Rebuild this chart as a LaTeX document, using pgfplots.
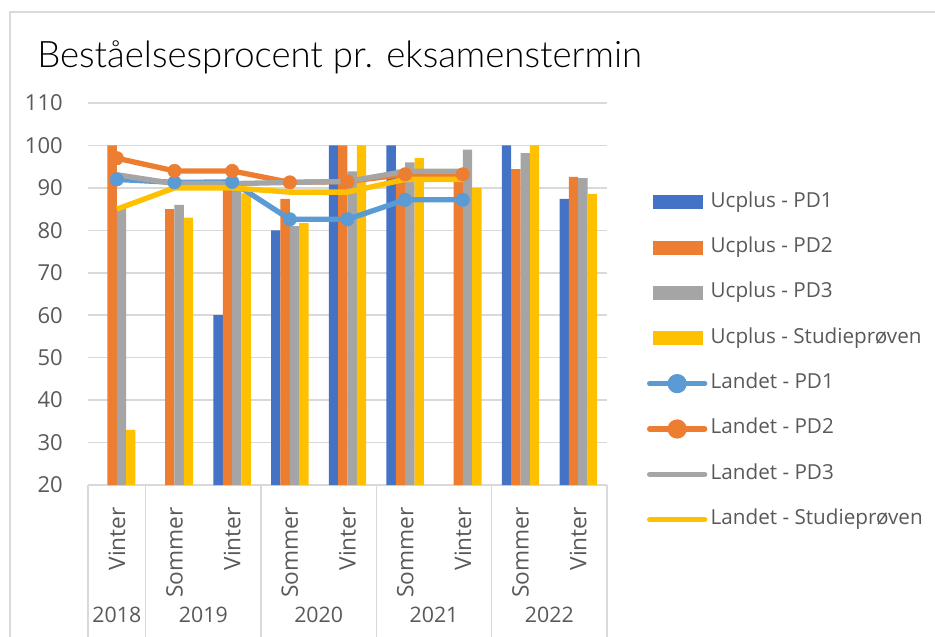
\documentclass[border=0pt]{standalone}
\usepackage{fontspec}
\setmainfont{Open Sans}
\newfontfamily\titlefont{Lato Light}
\usepackage{pgfplots}
\pgfplotsset{compat=1.18}
\definecolor{cA}{HTML}{4472C4}
\definecolor{cB}{HTML}{ED7D31}
\definecolor{cC}{HTML}{A5A5A5}
\definecolor{cD}{HTML}{FFC000}
\definecolor{cE}{HTML}{5B9BD5}
\definecolor{gridc}{HTML}{D9D9D9}
\definecolor{txt}{HTML}{595959}
\begin{document}
\begin{tikzpicture}
\useasboundingbox (0,0) rectangle (701.25pt,-477pt);
\draw[gridc, line width=1pt] (7.5pt,-9pt) rectangle (720pt,-500pt);
\node[anchor=base west, inner sep=0pt, font=\titlefont\fontsize{27.4}{31}\selectfont] at (27.75pt,-50.25pt) {Beståelsesprocent pr. eksamenstermin};
\begin{axis}[
  at={(66pt,-363.75pt)}, anchor=south west,
  scale only axis, width=389.25pt, height=286.5pt,
  xmin=-0.5, xmax=8.5, ymin=20, ymax=110,
  ytick={20,30,...,110},
  xtick={0,...,8},
  xticklabels={Vinter,Sommer,Vinter,Sommer,Vinter,Sommer,Vinter,Sommer,Vinter},
  /pgf/number format/assume math mode=true,
  ticklabel style={text=txt},
  xticklabel style={rotate=90, anchor=east, inner sep=0pt, font=\fontsize{17}{20}\selectfont},
  yticklabel style={anchor=east, inner sep=0pt, font=\fontsize{16.5}{19}\selectfont},
  xticklabel shift=16.5pt,
  yticklabel shift=18.75pt,
  major tick length=0pt,
  tick style={draw=none},
  axis line style={draw=none},
  ymajorgrids,
  grid style={draw=gridc, line width=1.2pt},
  legend cell align=left,
  legend style={at={(1.0771,0.3247)}, anchor=west, draw=none, fill=none,
    inner sep=0pt, outer sep=0pt, column sep=2.5pt, row sep=19.5pt,
    font=\fontsize{15.5}{18}\selectfont, text=txt,
    nodes={inner sep=0pt, text height=11pt, text depth=3.5pt}},
]
\addplot[ybar, bar width=7pt, bar shift=-10.5pt, fill=cA, draw=none,
  legend image code/.code={\fill[cA] (2.25pt,-5.25pt) rectangle (39.75pt,5.25pt);}]
  coordinates {(2,60) (3,80) (4,100) (5,100) (7,100) (8,87.4)};
\addlegendentry{Ucplus - PD1}
\addplot[ybar, bar width=7pt, bar shift=-3.5pt, fill=cB, draw=none,
  legend image code/.code={\fill[cB] (2.25pt,-5.25pt) rectangle (39.75pt,5.25pt);}]
  coordinates {(0,100) (1,85) (2,92) (3,87.4) (4,100) (5,94.3) (6,93) (7,94.4) (8,92.6)};
\addlegendentry{Ucplus - PD2}
\addplot[ybar, bar width=7pt, bar shift=3.5pt, fill=cC, draw=none,
  legend image code/.code={\fill[cC] (2.25pt,-5.25pt) rectangle (39.75pt,5.25pt);}]
  coordinates {(0,85.2) (1,86) (2,89.5) (3,81) (4,93.9) (5,96) (6,99) (7,98.2) (8,92.3)};
\addlegendentry{Ucplus - PD3}
\addplot[ybar, bar width=7pt, bar shift=10.5pt, fill=cD, draw=none,
  legend image code/.code={\fill[cD] (2.25pt,-5.25pt) rectangle (39.75pt,5.25pt);}]
  coordinates {(0,33) (1,83) (2,88.7) (3,81.7) (4,100) (5,97) (6,90) (7,100) (8,88.6)};
\addlegendentry{Ucplus - Studieprøven}
\addplot[sharp plot, cE, line width=4pt, line join=round, mark=*, mark size=5pt,
  mark options={fill=cE, draw=cE, line width=0.5pt},
  legend image code/.code={\draw[cE, line width=4pt, line cap=round] (0pt,0pt) -- (41.25pt,0pt); \fill[cE] (20.6pt,0pt) circle (5.2pt);}]
  coordinates {(0,92) (1,91.3) (2,91.4) (3,82.6) (4,82.6) (5,87.2) (6,87.2)};
\addlegendentry{Landet - PD1}
\addplot[sharp plot, cB, line width=4pt, line join=round, mark=*, mark size=5pt,
  mark options={fill=cB, draw=cB, line width=0.5pt},
  legend image code/.code={\draw[cB, line width=4pt, line cap=round] (0pt,0pt) -- (41.25pt,0pt); \fill[cB] (20.6pt,0pt) circle (5.2pt);}]
  coordinates {(0,97) (1,94) (2,94) (3,91.3) (4,91.5) (5,93.2) (6,93.2)};
\addlegendentry{Landet - PD2}
\addplot[sharp plot, cC, line width=4pt, line join=round,
  legend image code/.code={\draw[cC, line width=4pt, line cap=round] (0pt,0pt) -- (41.25pt,0pt);}]
  coordinates {(0,93.1) (1,91) (2,91) (3,91.3) (4,91.5) (5,93.9) (6,93.9)};
\addlegendentry{Landet - PD3}
\addplot[sharp plot, cD, line width=4pt, line join=round,
  legend image code/.code={\draw[cD, line width=4pt, line cap=round] (0pt,0pt) -- (41.25pt,0pt);}]
  coordinates {(0,85) (1,90) (2,90) (3,89) (4,89) (5,92) (6,92)};
\addlegendentry{Landet - Studieprøven}
\end{axis}
\foreach \xx in {66,109.25,195.75,282.25,368.75,455.25}
  \draw[gridc, line width=1.2pt] (\xx pt,-363.75pt) -- (\xx pt,-480pt);
\foreach \xx/\yr in {87.6/2018,152.5/2019,239/2020,325.5/2021,412/2022}
  \node[font=\fontsize{16}{19}\selectfont, text=txt, inner sep=0pt] at (\xx pt,-461.25pt) {\yr};
\end{tikzpicture}
\end{document}
